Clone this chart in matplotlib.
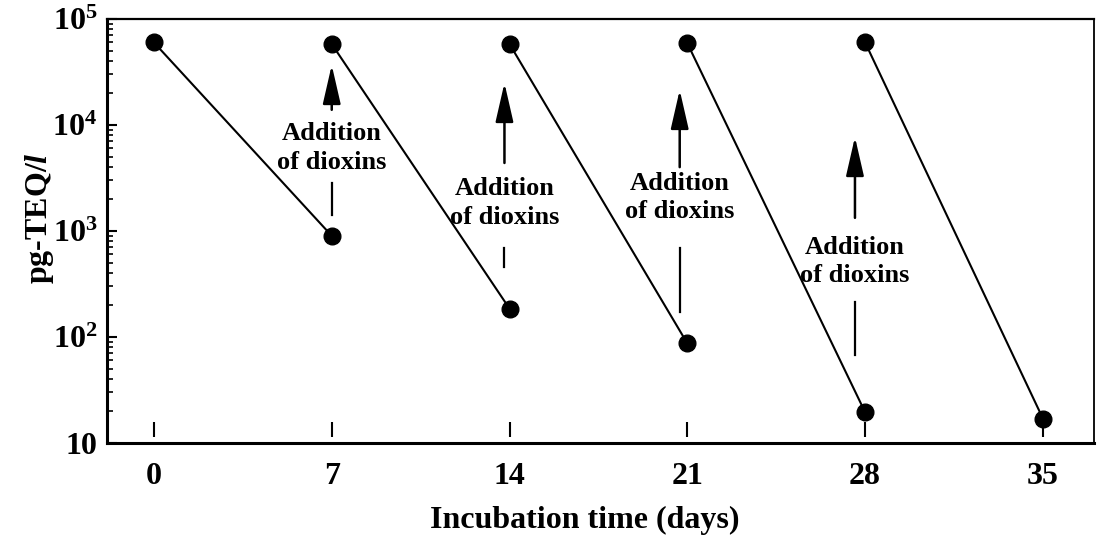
import matplotlib
matplotlib.use("Agg")
import matplotlib.pyplot as plt
import numpy as np

# ---- data ----
days_start = [0, 7, 14, 21, 28]
days_end = [7, 14, 21, 28, 35]
conc_start = [6.0e4, 5.8e4, 5.8e4, 5.9e4, 6.0e4]
conc_end = [900, 185, 87, 19.5, 17]

xtick_values = [0, 7, 14, 21, 28, 35]
xtick_labels = ["0", "7", "14", "21", "28", "35"]
ytick_values = [10, 1e2, 1e3, 1e4, 1e5]
ytick_labels = ["10", r"$\mathbf{10^2}$", r"$\mathbf{10^3}$", r"$\mathbf{10^4}$", r"$\mathbf{10^5}$"]

ann_text = "Addition\nof dioxins"
ann_x = [7.0, 13.8, 20.7, 27.6]
ann_arrow_tip = [3.68e4, 2.49e4, 2.14e4, 7.7e3]
ann_arrow_tail = [1.39e4, 4.38e3, 4.0e3, 1.33e3]
ann_text_y = [6.07e3, 1.84e3, 2.07e3, 515]
ann_line_top = [2.84e3, 692, 692, 214]
ann_line_bot = [1.42e3, 457, 172, 67]

# ---- style ----
plt.rcParams['font.family'] = ['Liberation Serif', 'DejaVu Serif']
plt.rcParams['font.weight'] = 'bold'
plt.rcParams['mathtext.fontset'] = 'custom'
plt.rcParams['mathtext.rm'] = 'Liberation Serif:bold'
plt.rcParams['mathtext.bf'] = 'Liberation Serif:bold'
plt.rcParams['mathtext.it'] = 'Liberation Serif:italic:bold'
plt.rcParams['mathtext.bfit'] = 'Liberation Serif:italic:bold'

fig = plt.figure(figsize=(10.97, 5.42), dpi=100)
ax = fig.add_axes([0.0975, 0.1827, 0.8995, 0.7823])

for xs, xe, ys, ye in zip(days_start, days_end, conc_start, conc_end):
    ax.plot([xs, xe], [ys, ye], color='black', lw=1.5, marker='o',
            markersize=12, markerfacecolor='black', markeredgecolor='black')

ax.set_yscale('log')
ax.set_ylim(10, 1e5)
ax.set_xlim(-1.85, 37.0)

ax.set_xticks(xtick_values)
ax.set_xticklabels(xtick_labels, fontsize=23, fontweight='bold')
ax.tick_params(axis='x', length=0, pad=14)
# short dashes above the x axis at tick positions
ax.vlines(xtick_values, 0.013, 0.05, transform=ax.get_xaxis_transform(),
          color='black', lw=1.5)

ax.set_yticks(ytick_values)
ax.set_yticklabels(ytick_labels, fontsize=23, fontweight='bold')
ax.tick_params(axis='y', which='major', direction='in', length=7, width=1.5, pad=7)
ax.tick_params(axis='y', which='minor', direction='in', length=4.5, width=1.2)
ax.yaxis.set_minor_formatter(matplotlib.ticker.NullFormatter())

for side, w in [('left', 2.2), ('bottom', 2.2), ('top', 1.6), ('right', 1.3)]:
    ax.spines[side].set_linewidth(w)

ax.set_xlabel("Incubation time (days)", fontsize=23, fontweight='bold')
ax.xaxis.set_label_coords(0.484, -0.148)
ax.set_ylabel(r"pg-TEQ/$\mathbfit{l}$", fontsize=23, fontweight='bold')
ax.yaxis.set_label_coords(-0.052, 0.53)

for x, tip, tail, ty, lt, lb in zip(ann_x, ann_arrow_tip, ann_arrow_tail,
                                   ann_text_y, ann_line_top, ann_line_bot):
    ax.annotate("", xy=(x, tip), xytext=(x, tail),
                arrowprops=dict(arrowstyle="-|>,head_length=2.4,head_width=0.55",
                                color='black', lw=1.8, shrinkA=0, shrinkB=0))
    ax.text(x, ty, ann_text, ha='center', va='center', fontsize=19,
            fontweight='bold', linespacing=1.3)
    ax.plot([x, x], [lt, lb], color='black', lw=1.6)

fig.savefig("out.png", dpi=100)
